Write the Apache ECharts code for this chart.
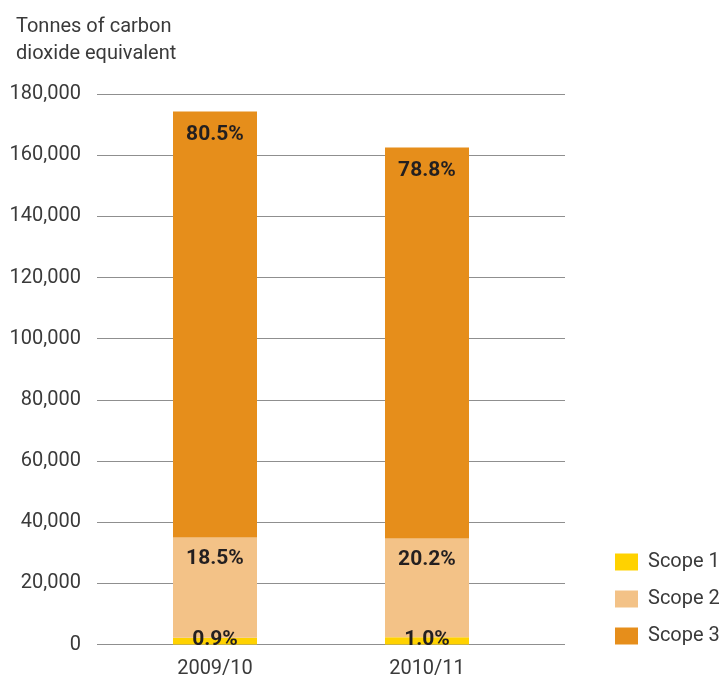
<!DOCTYPE html>
<html>
<head>
<meta charset="utf-8">
<script src="https://cdn.jsdelivr.net/npm/echarts@6/dist/echarts.min.js"></script>
<style>html,body{margin:0;padding:0;background:#fff}#c{width:728px;height:682px}</style>
</head>
<body>
<div id="c"></div>
<script>
const categories = ['2009/10', '2010/11'];
const scope1 = [2200, 2350];
const scope2 = [32750, 32270];
const scope3 = [139320, 127870];
const pct1 = ['0.9%', '1.0%'];
const pct2 = ['18.5%', '20.2%'];
const pct3 = ['80.5%', '78.8%'];
const seriesNames = ['Scope 1', 'Scope 2', 'Scope 3'];
const colors = ['#FFD200', '#F3C287', '#E68E1B'];
const yMin = 0, yMax = 180000, yInterval = 20000;

const font = 'Roboto';
const labelBase = {
  show: true, color: '#231f20', fontFamily: font, fontWeight: 'bold', fontSize: 21
};
const chart = echarts.init(document.getElementById('c'));
chart.setOption({
  animation: false,
  title: {
    text: 'Tonnes of carbon\ndioxide equivalent',
    left: 11, top: 8,
    textStyle: { fontFamily: font, fontWeight: 'normal', fontSize: 20, lineHeight: 27, color: '#3a3a3a' }
  },
  legend: {
    orient: 'vertical', left: 610, top: 547,
    itemWidth: 23, itemHeight: 17, itemGap: 17,
    data: seriesNames,
    icon: 'rect',
    textStyle: { fontFamily: font, fontSize: 20, color: '#3a3a3a', lineHeight: 20, padding: [0, 0, 0, 5] }
  },
  grid: [
    { left: 97, right: 163, top: 94, bottom: 682 - 644.5 },
    { left: 109, right: 195, top: 94, bottom: 682 - 644.5 }
  ],
  xAxis: [
    { gridIndex: 0, type: 'category', data: categories, show: false },
    { gridIndex: 1, type: 'category', data: categories,
      axisLine: { show: false }, axisTick: { show: false },
      axisLabel: { fontFamily: font, fontSize: 20, color: '#3a3a3a', margin: 14 } }
  ],
  yAxis: [
    { gridIndex: 0, type: 'value', min: yMin, max: yMax, interval: yInterval,
      axisLine: { show: false }, axisTick: { show: false },
      splitLine: { lineStyle: { color: '#8f8f8f', width: 1 } },
      axisLabel: { fontFamily: font, fontSize: 20, color: '#3a3a3a', margin: 16,
        formatter: v => v.toLocaleString('en-US') } },
    { gridIndex: 1, type: 'value', min: yMin, max: yMax, interval: yInterval, show: false }
  ],
  series: [
    { name: seriesNames[0], type: 'bar', stack: 's', xAxisIndex: 1, yAxisIndex: 1,
      barWidth: 84, data: scope1, itemStyle: { color: colors[0] },
      label: Object.assign({}, labelBase, { position: 'insideBottom', distance: 0, lineHeight: 20, offset: [0, 5],
        formatter: p => pct1[p.dataIndex] }) },
    { name: seriesNames[1], type: 'bar', stack: 's', xAxisIndex: 1, yAxisIndex: 1,
      barWidth: 84, data: scope2, itemStyle: { color: colors[1] },
      label: Object.assign({}, labelBase, { position: 'insideTop', distance: 10, lineHeight: 22,
        formatter: p => pct2[p.dataIndex] }) },
    { name: seriesNames[2], type: 'bar', stack: 's', xAxisIndex: 1, yAxisIndex: 1,
      barWidth: 84, data: scope3, itemStyle: { color: colors[2] },
      label: Object.assign({}, labelBase, { position: 'insideTop', distance: 12, lineHeight: 22,
        formatter: p => pct3[p.dataIndex] }) }
  ]
});
</script>
</body>
</html>
